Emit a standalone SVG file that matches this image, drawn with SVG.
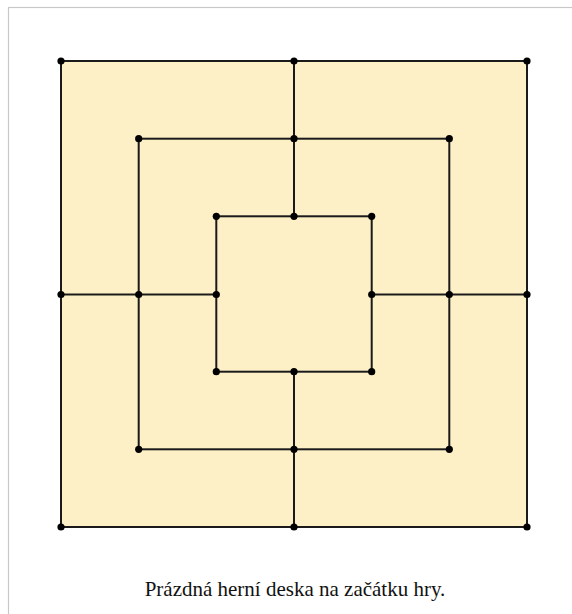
<svg xmlns="http://www.w3.org/2000/svg" width="572" height="614" viewBox="0 0 572 614">
<style>
.ln{fill:none;stroke:#1a1a1a;stroke-width:2;stroke-linecap:square}
.pt{fill:#000}
.cap{font-family:"Liberation Serif",serif;font-size:21px;fill:#111}
</style>
<rect x="0" y="0" width="572" height="614" fill="#fff"/>
<rect x="8.5" y="7.5" width="570" height="620" fill="none" stroke="#c8c8c8" stroke-width="1.2"/>
<g id="board">
<rect x="61" y="61" width="466" height="466" fill="#fef0c6"/>
</g>
<g id="connectors">
<rect class="ln" x="61" y="61" width="466" height="466"/>
<rect class="ln" x="138.7" y="138.7" width="310.6" height="310.6"/>
<rect class="ln" x="216.3" y="216.3" width="155.4" height="155.4"/>
<line class="ln" x1="294" y1="61" x2="294" y2="216.3"/>
<line class="ln" x1="294" y1="371.7" x2="294" y2="527"/>
<line class="ln" x1="61" y1="294.5" x2="216.3" y2="294.5"/>
<line class="ln" x1="371.7" y1="294.5" x2="527" y2="294.5"/>
</g>
<g id="nodes">
<g id="n-outer">
<circle class="pt" cx="61" cy="61" r="3.6"/><circle class="pt" cx="294" cy="61" r="3.6"/><circle class="pt" cx="527" cy="61" r="3.6"/>
<circle class="pt" cx="61" cy="294.5" r="3.6"/><circle class="pt" cx="527" cy="294.5" r="3.6"/>
<circle class="pt" cx="61" cy="527" r="3.6"/><circle class="pt" cx="294" cy="527" r="3.6"/><circle class="pt" cx="527" cy="527" r="3.6"/>
</g>
<g id="n-middle">
<circle class="pt" cx="138.7" cy="138.7" r="3.6"/><circle class="pt" cx="294" cy="138.7" r="3.6"/><circle class="pt" cx="449.3" cy="138.7" r="3.6"/>
<circle class="pt" cx="138.7" cy="294.5" r="3.6"/><circle class="pt" cx="449.3" cy="294.5" r="3.6"/>
<circle class="pt" cx="138.7" cy="449.3" r="3.6"/><circle class="pt" cx="294" cy="449.3" r="3.6"/><circle class="pt" cx="449.3" cy="449.3" r="3.6"/>
</g>
<g id="n-inner">
<circle class="pt" cx="216.3" cy="216.3" r="3.6"/><circle class="pt" cx="294" cy="216.3" r="3.6"/><circle class="pt" cx="371.7" cy="216.3" r="3.6"/>
<circle class="pt" cx="216.3" cy="294.5" r="3.6"/><circle class="pt" cx="371.7" cy="294.5" r="3.6"/>
<circle class="pt" cx="216.3" cy="371.7" r="3.6"/><circle class="pt" cx="294" cy="371.7" r="3.6"/><circle class="pt" cx="371.7" cy="371.7" r="3.6"/>
</g>
</g>
<text class="cap" x="295" y="596" text-anchor="middle">Prázdná herní deska na začátku hry.</text>
</svg>
